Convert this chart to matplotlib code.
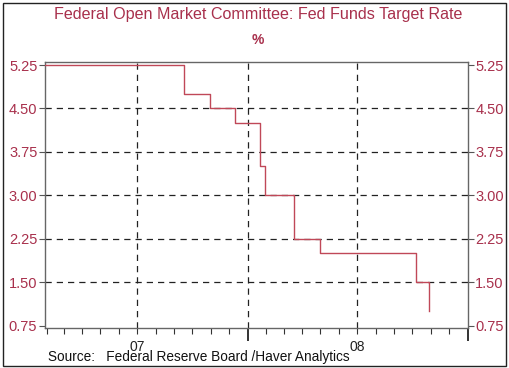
import numpy as np
import pandas as pd
import matplotlib
matplotlib.use("Agg")
import matplotlib.pyplot as plt
import matplotlib.dates as mdates
from matplotlib.patches import Rectangle

# FOMC target rate changes (date the new rate took effect)
change_dates = ["2007-01-01", "2007-09-18", "2007-10-31", "2007-12-11",
                "2008-01-22", "2008-01-30", "2008-03-18", "2008-04-30",
                "2008-10-08", "2008-10-29"]
target_rate = [5.25, 4.75, 4.50, 4.25, 3.50, 3.00, 2.25, 2.00, 1.50, 1.00]

y_ticks = [0.75, 1.50, 2.25, 3.00, 3.75, 4.50, 5.25]
year_labels = ["07", "08"]
year_label_dates = ["2007-07-01", "2008-07-01"]

text_col = "#A8304C"
line_col = "#C04858"

plt.rcParams['font.family'] = ['Liberation Sans', 'DejaVu Sans']

fig = plt.figure(figsize=(5.1, 3.68), dpi=100)
ax = fig.add_axes([45 / 510, 40 / 368, 422.5 / 510, 266 / 368])

dates = pd.to_datetime(change_dates)
ax.step(dates, target_rate, where='post', color=line_col, lw=1.0, zorder=3)

ax.set_xlim(pd.Timestamp("2007-01-29"), pd.Timestamp("2009-01-01"))
ax.set_ylim(0.71, 5.302)

# y axis on both sides
ax.set_yticks(y_ticks)
ax.set_yticklabels([f"{v:.2f}" for v in y_ticks])
ax.tick_params(axis='y', which='both', left=True, right=True, labelleft=True,
               labelright=True, direction='out', length=4, width=0.8,
               colors='#555555', labelcolor=text_col, labelsize=10.5, pad=1.5)

# x axis: monthly minor ticks, yearly long ticks, labels mid-year
ax.xaxis.set_major_locator(mdates.YearLocator())
ax.xaxis.set_major_formatter(plt.NullFormatter())
ax.xaxis.set_minor_locator(mdates.MonthLocator())
ax.tick_params(axis='x', which='major', direction='out', length=9, width=1.4,
               colors='#333333')
ax.tick_params(axis='x', which='minor', direction='out', length=4, width=0.8,
               colors='#333333')
for lab, d in zip(year_labels, year_label_dates):
    ax.text(pd.Timestamp(d), -0.07, lab, transform=ax.get_xaxis_transform(),
            ha='center', va='center', fontsize=10, color='#222222')

# dashed grid
for v in y_ticks[1:-1]:
    ax.axhline(v, color='#222222', lw=0.9, ls=(0, (5, 4)), zorder=1)
for d in ["2007-07-01", "2008-01-01", "2008-07-01"]:
    ax.axvline(pd.Timestamp(d), color='#222222', lw=0.9, ls=(0, (5, 4)), zorder=1)

for s in ax.spines.values():
    s.set_color('#666666')
    s.set_linewidth(1.0)

fig.text(258 / 510, 1 - 14 / 368, "Federal Open Market Committee: Fed Funds Target Rate",
         ha='center', va='center', fontsize=11.6, color=text_col)
fig.text(258 / 510, 1 - 40 / 368, "%", ha='center', va='center',
         fontsize=10, color=text_col, fontweight='bold')
fig.text(48 / 510, 1 - 357 / 368, "Source:   Federal Reserve Board /Haver Analytics",
         ha='left', va='center', fontsize=9.8, color='#111111')

# outer frame
fig.patches.append(Rectangle((3 / 510, 2 / 368), 503 / 510, 363 / 368,
                             transform=fig.transFigure, fill=False,
                             edgecolor='#222222', lw=1.0))

fig.savefig("out.png", dpi=100)
